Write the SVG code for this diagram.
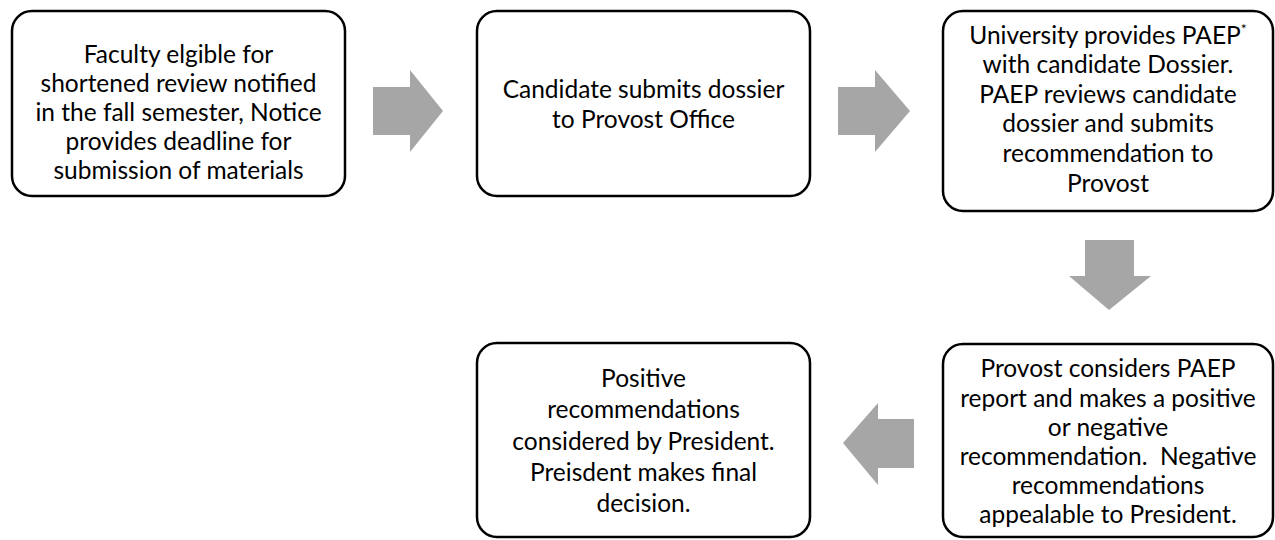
<svg xmlns="http://www.w3.org/2000/svg" width="1275" height="540" viewBox="0 0 1275 540">
<style>
.box{fill:#fff;stroke:#000;stroke-width:2.5}
.arr{fill:#a6a6a6}
text{font-family:Lato,"Liberation Sans",sans-serif;font-size:24.5px;fill:#000;text-anchor:middle}
</style>
<rect width="1275" height="540" fill="#fff"/>
<g id="connectors">
<polygon class="arr" points="373,87 410,87 410,70 443,111 410,152 410,135 373,135"/>
<polygon class="arr" points="838,87 875,87 875,70 910,111 875,152 875,135 838,135"/>
<polygon class="arr" points="1085,240 1134,240 1134,276 1151,276 1109,310 1069,276 1085,276"/>
<polygon class="arr" points="914,419 878,419 878,403 843,443 878,485 878,468 914,468"/>
</g>
<g id="n1">
<rect class="box" x="12" y="11" width="333" height="185" rx="20"/>
<text x="178.5" y="63">Faculty elgible for</text>
<text x="178.5" y="92">shortened review notified</text>
<text x="178.5" y="121">in the fall semester, Notice</text>
<text x="178.5" y="150">provides deadline for</text>
<text x="178.5" y="179">submission of materials</text>
</g>
<g id="n2">
<rect class="box" x="477" y="11" width="333" height="185" rx="20"/>
<text x="643.5" y="98">Candidate submits dossier</text>
<text x="643.5" y="128">to Provost Office</text>
</g>
<g id="n3">
<rect class="box" x="943" y="11" width="330" height="200" rx="20"/>
<text x="1108" y="44">University provides PAEP<tspan font-size="14" dy="-10">*</tspan></text>
<text x="1108" y="73">with candidate Dossier.</text>
<text x="1108" y="103">PAEP reviews candidate</text>
<text x="1108" y="132">dossier and submits</text>
<text x="1108" y="162">recommendation to</text>
<text x="1108" y="192">Provost</text>
</g>
<g id="n4">
<rect class="box" x="943" y="344" width="330" height="193" rx="20"/>
<text x="1108" y="377">Provost considers PAEP</text>
<text x="1108" y="407">report and makes a positive</text>
<text x="1108" y="436">or negative</text>
<text x="1108" y="465" xml:space="preserve">recommendation.  Negative</text>
<text x="1108" y="494">recommendations</text>
<text x="1108" y="523">appealable to President.</text>
</g>
<g id="n5">
<rect class="box" x="477" y="343" width="333" height="194" rx="20"/>
<text x="643.5" y="387">Positive</text>
<text x="643.5" y="418">recommendations</text>
<text x="643.5" y="450">considered by President.</text>
<text x="643.5" y="481">Preisdent makes final</text>
<text x="643.5" y="512">decision.</text>
</g>
</svg>
